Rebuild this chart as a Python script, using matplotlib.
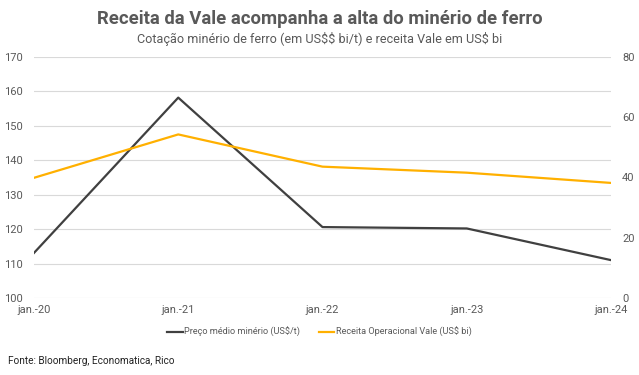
import matplotlib
matplotlib.use("Agg")
import matplotlib.pyplot as plt

categories = ["jan.-20", "jan.-21", "jan.-22", "jan.-23", "jan.-24"]
preco_minerio = [113.1, 158.2, 120.6, 120.2, 111.0]
receita_vale = [39.9, 54.3, 43.6, 41.6, 38.2]
left_ticks = [100, 110, 120, 130, 140, 150, 160, 170]
right_ticks = [0, 20, 40, 60, 80]

plt.rcParams['font.family'] = ['Roboto', 'DejaVu Sans']
gray = "#595959"

fig = plt.figure(figsize=(6.39, 3.75), dpi=100)
ax = fig.add_axes([34/639, 1-298/375, (611-34)/639, (298-57)/375])
ax2 = ax.twinx()

x = list(range(len(categories)))
l1, = ax.plot(x, preco_minerio, color="#404040", lw=1.6, label="Preço médio minério (US$/t)")
l2, = ax2.plot(x, receita_vale, color="#FFB000", lw=1.6, label="Receita Operacional Vale (US$ bi)")

ax.set_ylim(100, 170)
ax.set_yticks(left_ticks)
ax2.set_ylim(0, 80)
ax2.set_yticks(right_ticks)
ax.set_xlim(0, 4)
ax.set_xticks(x)
ax.set_xticklabels(categories)
ax.grid(axis='y', color="#d9d9d9", lw=0.8)
ax.set_axisbelow(True)
for a in (ax, ax2):
    for s in a.spines.values():
        s.set_visible(False)
    a.tick_params(length=0, labelsize=8, colors=gray)
ax.tick_params(axis='y', pad=8)
ax2.tick_params(axis='y', pad=8)
ax.tick_params(axis='x', pad=5)

fig.text(0.5, 1-19/375, "Receita da Vale acompanha a alta do minério de ferro",
         ha='center', va='center', fontsize=13.3, fontweight='bold', color=gray)
fig.text(0.5, 1-39/375, "Cotação minério de ferro (em US$$ bi/t) e receita Vale em US$ bi",
         ha='center', va='center', fontsize=9.1, color=gray)

fig.legend(handles=[l1, l2], loc='center', bbox_to_anchor=(0.5, 1-332/375), ncol=2,
           frameon=False, fontsize=6.6, handlelength=1.7, handletextpad=0.15,
           columnspacing=2.0, labelcolor=gray)

fig.text(8/639, 1-361/375, "Fonte: Bloomberg, Economatica, Rico", ha='left', va='center',
         fontsize=7.2, color="#222222")

fig.savefig("out.png", dpi=100)
